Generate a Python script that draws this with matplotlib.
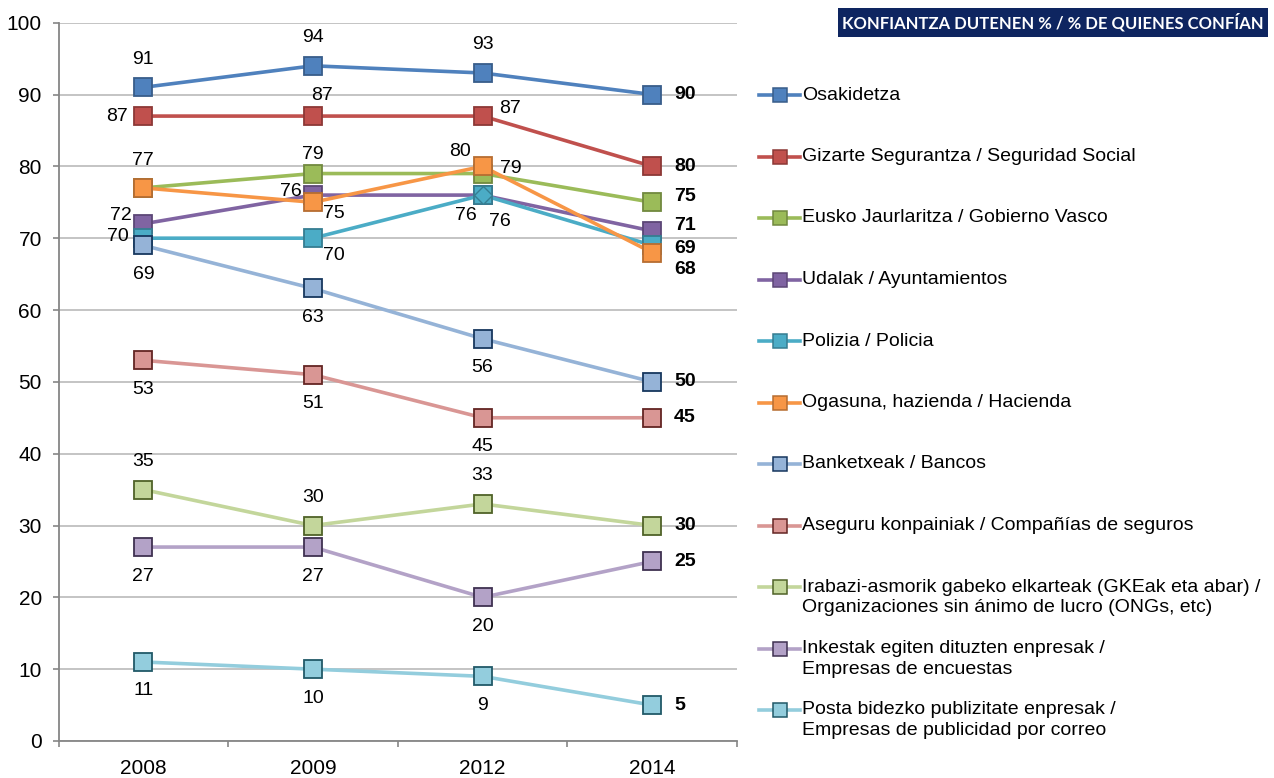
import matplotlib
matplotlib.use('Agg')
import matplotlib.pyplot as plt
from matplotlib.lines import Line2D
from matplotlib.patches import Rectangle

plt.rcParams['font.family'] = ['Liberation Sans', 'DejaVu Sans']

# --- datos ---
years = ['2008', '2009', '2012', '2014']

names = [
    'Osakidetza',
    'Gizarte Segurantza / Seguridad Social',
    'Eusko Jaurlaritza / Gobierno Vasco',
    'Udalak / Ayuntamientos',
    'Polizia / Policia',
    'Ogasuna, hazienda / Hacienda',
    'Banketxeak / Bancos',
    'Aseguru konpainiak / Compañías de seguros',
    'Irabazi-asmorik gabeko elkarteak (GKEak eta abar) /\nOrganizaciones sin ánimo de lucro (ONGs, etc)',
    'Inkestak egiten dituzten enpresak /\nEmpresas de encuestas',
    'Posta bidezko publizitate enpresak /\nEmpresas de publicidad por correo',
]

osakidetza = [91, 94, 93, 90]
gizarte = [87, 87, 87, 80]
eusko = [77, 79, 79, 75]
udalak = [72, 76, 76, 71]
polizia = [70, 70, 76, 69]
ogasuna = [77, 75, 80, 68]
bancos = [69, 63, 56, 50]
seguros = [53, 51, 45, 45]
ongs = [35, 30, 33, 30]
encuestas = [27, 27, 20, 25]
correo = [11, 10, 9, 5]

series = [osakidetza, gizarte, eusko, udalak, polizia, ogasuna,
          bancos, seguros, ongs, encuestas, correo]

# colores (linea / relleno, borde del marcador)
line_colors = ['#4F81BD', '#C0504D', '#9BBB59', '#8064A2', '#4BACC6', '#F79646',
               '#95B3D7', '#D99694', '#C3D69B', '#B3A2C7', '#93CDDD']
edge_colors = ['#385D8A', '#8C3836', '#71893F', '#5C4776', '#357D91', '#B66D31',
               '#17375E', '#632523', '#4F6228', '#3F3151', '#215968']

# posicion de las etiquetas (pixeles respecto al punto); el ultimo punto va a la derecha en negrita
UP, DN = (0, 28), (0, -29)
label_pos = [
    [UP, UP, UP, 0],
    [(-26, 0), (9, 21), (27, 8), 0],
    [(0, 27), (0, 19), (28, 5), 6],
    [(-22, 8), (-22, 4), (-17, -20), 6],
    [(-25, 2), (21, -17), (17, -26), -3],
    [None, (21, -11), (-23, 15), -17],
    [DN, DN, DN, 0],
    [DN, DN, DN, 0],
    [UP, UP, UP, 0],
    [DN, DN, DN, 0],
    [DN, DN, DN, 0],
]

W, H = 1274, 778
fig = plt.figure(figsize=(W / 100, H / 100), dpi=100)
ax = fig.add_axes([58.5 / W, 1 - 741 / H, (737 - 58.5) / W, (741 - 22.7) / H])

x = list(range(len(years)))
for i, vals in enumerate(series):
    ax.plot(x, vals, color=line_colors[i], lw=2.6, marker='s', markersize=12.5,
            markerfacecolor=line_colors[i], markeredgecolor=edge_colors[i],
            markeredgewidth=1.3, zorder=3 + i * 0.1, solid_capstyle='round')
    for j, v in enumerate(vals):
        pos = label_pos[i][j]
        if pos is None:
            continue
        if j == len(vals) - 1:
            ax.annotate(str(v), (x[j], v), xytext=(22, pos), textcoords='offset pixels',
                        ha='left', va='center', fontsize=14, fontweight='bold', zorder=10)
        else:
            ax.annotate(str(v), (x[j], v), xytext=pos, textcoords='offset pixels',
                        ha='center', va='center', fontsize=14, zorder=10)

# marcador rombo de Polizia en 2012
ax.plot([x[2]], [polizia[2]], marker='D', markersize=9.5, color=line_colors[4],
        markeredgecolor=edge_colors[4], markeredgewidth=1.0, lw=0, zorder=4)

ax.set_xlim(-0.5, 3.5)
ax.set_ylim(0, 100)
ax.set_yticks(range(0, 101, 10))
ax.set_xticks([-0.5, 0.5, 1.5, 2.5, 3.5])
ax.set_xticklabels([])
ax.set_xticks(x, minor=True)
ax.set_xticklabels(years, minor=True)
ax.tick_params(axis='x', which='minor', length=0, labelsize=15, pad=13)
ax.tick_params(axis='x', which='major', length=4.5, color='#868686', width=1.2)
ax.tick_params(axis='y', length=4.5, color='#868686', width=1.2, labelsize=15, pad=7.5)
ax.grid(axis='y', color='#BFBFBF', lw=1.3)
ax.set_axisbelow(True)
for s in ['top', 'right']:
    ax.spines[s].set_visible(False)
for s in ['left', 'bottom']:
    ax.spines[s].set_color('#868686')
    ax.spines[s].set_linewidth(1.3)

# leyenda a mano (la linea se alinea con la primera linea del texto, como en Excel)
for i, name in enumerate(names):
    y = 1 - (95 + 61.5 * i) / H
    fig.add_artist(Line2D([759 / W, 800 / W], [y, y], color=line_colors[i], lw=2.6))
    fig.add_artist(Line2D([779.5 / W], [y], marker='s', markersize=9.5,
                          markerfacecolor=line_colors[i], markeredgecolor=edge_colors[i],
                          markeredgewidth=1.1))
    for k, part in enumerate(name.split('\n')):
        fig.text(802 / W, y - k * 20.5 / H, part, fontsize=14, va='center', ha='left')

# titulo en caja
fig.add_artist(Rectangle((838 / W, 1 - 37 / H), 430 / W, 29 / H,
                         transform=fig.transFigure, facecolor='#0E2560', edgecolor='none'))
fig.text(1053 / W, 1 - 22.5 / H, 'KONFIANTZA DUTENEN % / % DE QUIENES CONFÍAN',
         family=['Lato', 'DejaVu Sans'], fontweight='bold', fontsize=12, color='white',
         ha='center', va='center')

fig.savefig('out.png', dpi=100)
